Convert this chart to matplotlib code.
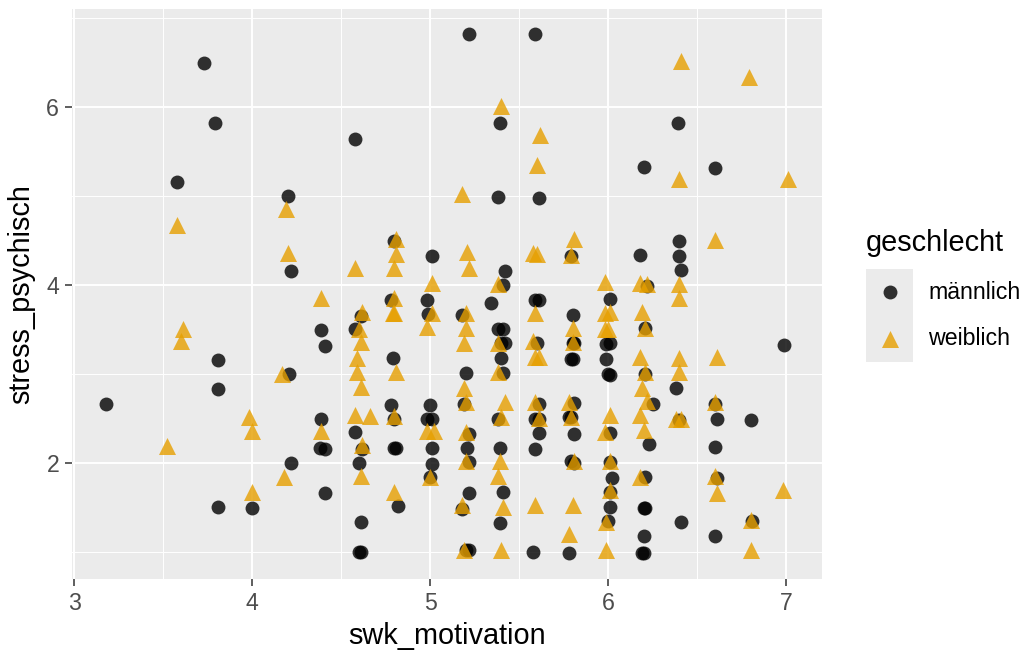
import matplotlib
matplotlib.use("Agg")
import matplotlib.pyplot as plt
from matplotlib.ticker import FixedLocator

plt.rcParams['font.family'] = ['Liberation Sans', 'DejaVu Sans']

# swk_motivation / stress_psychisch, male respondents
maennlich_x = [3.18, 3.58, 3.73, 3.79, 3.81, 3.81, 3.81, 4.00, 4.20, 4.22,
               4.21, 4.22, 4.39, 4.41, 4.39, 4.38, 4.41, 4.41, 4.58, 4.58,
               4.61, 4.58, 4.62, 4.60, 4.61, 4.60, 4.61, 4.80, 4.78, 4.79,
               4.78, 4.80, 4.80, 4.81, 4.82, 5.01, 4.98, 4.99, 5.00, 4.98,
               5.01, 5.01, 5.01, 5.00, 5.22, 5.18, 5.20, 5.19, 5.22, 5.21,
               5.22, 5.22, 5.18, 5.20, 5.22, 5.39, 5.38, 5.42, 5.41, 5.34,
               5.38, 5.41, 5.40, 5.42, 5.40, 5.41, 5.38, 5.39, 5.41, 5.39,
               5.59, 5.61, 5.59, 5.61, 5.60, 5.61, 5.59, 5.61, 5.61, 5.59,
               5.58, 5.79, 5.80, 5.80, 5.81, 5.79, 5.80, 5.81, 5.78, 5.79,
               5.81, 5.79, 5.81, 5.78, 6.01, 5.99, 6.01, 5.99, 6.00, 6.01,
               6.01, 6.01, 6.02, 6.01, 6.01, 6.00, 6.20, 6.18, 6.22, 6.21,
               6.21, 6.25, 6.23, 6.21, 6.20, 6.21, 6.20, 6.19, 6.20, 6.39,
               6.40, 6.40, 6.41, 6.38, 6.40, 6.41, 6.60, 6.60, 6.61, 6.60,
               6.61, 6.60, 6.80, 6.81, 6.99]
maennlich_y = [2.67, 5.16, 6.50, 5.83, 3.16, 2.83, 1.51, 1.50, 5.00, 4.16,
               3.00, 2.00, 3.50, 3.32, 2.50, 2.17, 2.16, 1.66, 5.65, 3.51,
               3.66, 2.35, 2.16, 2.00, 1.34, 1.00, 1.00, 4.50, 3.84, 3.18,
               2.66, 2.50, 2.17, 2.17, 1.52, 4.33, 3.83, 3.68, 2.66, 2.50,
               2.50, 2.17, 1.99, 1.85, 6.82, 3.67, 3.01, 2.67, 2.33, 2.17,
               2.01, 1.67, 1.49, 1.02, 1.02, 5.82, 4.99, 4.16, 4.00, 3.80,
               3.51, 3.51, 3.35, 3.35, 3.18, 3.01, 2.50, 2.17, 1.68, 1.33,
               6.82, 4.98, 3.84, 3.83, 3.35, 2.67, 2.50, 2.50, 2.34, 2.16,
               1.00, 4.33, 3.67, 3.35, 3.35, 3.17, 3.17, 2.68, 2.52, 2.52,
               2.33, 2.02, 2.00, 0.99, 3.85, 3.34, 3.35, 3.17, 3.00, 2.99,
               2.34, 2.01, 1.83, 1.68, 1.51, 1.35, 5.33, 4.34, 3.99, 3.52,
               3.00, 2.67, 2.22, 1.85, 1.50, 1.50, 1.18, 0.99, 0.99, 5.82,
               4.50, 4.33, 4.17, 2.84, 2.49, 1.34, 5.32, 2.67, 2.50, 2.18,
               1.83, 1.18, 2.49, 1.35, 3.33]

# swk_motivation / stress_psychisch, female respondents
weiblich_x = [3.52, 3.58, 3.61, 3.60, 3.98, 4.00, 4.00, 4.19, 4.20, 4.17,
              4.18, 4.39, 4.39, 4.58, 4.62, 4.60, 4.61, 4.59, 4.59, 4.61,
              4.58, 4.66, 4.62, 4.61, 4.81, 4.81, 4.80, 4.80, 4.79, 4.80,
              4.81, 4.80, 4.80, 5.01, 5.01, 4.98, 5.02, 4.98, 5.00, 5.18,
              5.21, 5.22, 5.20, 5.20, 5.19, 5.19, 5.20, 5.20, 5.20, 5.18,
              5.19, 5.40, 5.38, 5.38, 5.38, 5.42, 5.40, 5.39, 5.38, 5.41,
              5.40, 5.62, 5.60, 5.58, 5.60, 5.59, 5.58, 5.59, 5.61, 5.59,
              5.61, 5.59, 5.81, 5.79, 5.80, 5.80, 5.78, 5.79, 5.81, 5.80,
              5.78, 5.98, 5.98, 6.01, 5.98, 6.00, 6.01, 5.98, 6.01, 6.01,
              5.99, 5.99, 6.18, 6.22, 6.19, 6.21, 6.18, 6.21, 6.19, 6.22,
              6.18, 6.20, 6.18, 6.41, 6.40, 6.40, 6.40, 6.40, 6.40, 6.38,
              6.41, 6.60, 6.61, 6.60, 6.60, 6.61, 6.79, 6.80, 6.80, 6.98,
              7.01]
weiblich_y = [2.19, 4.68, 3.51, 3.37, 2.52, 2.36, 1.68, 4.86, 4.36, 3.00,
              1.85, 3.86, 2.36, 4.19, 3.70, 3.51, 3.36, 3.18, 3.03, 2.86,
              2.54, 2.53, 2.20, 1.86, 4.52, 4.35, 4.19, 3.86, 3.69, 3.69,
              3.03, 2.53, 1.68, 4.03, 3.69, 3.53, 2.36, 2.36, 1.85, 5.03,
              4.37, 4.19, 3.69, 3.52, 3.35, 2.85, 2.69, 2.35, 2.02, 1.53,
              1.02, 6.02, 4.02, 3.35, 3.02, 2.69, 2.52, 2.03, 1.86, 1.51,
              1.03, 5.69, 5.35, 4.36, 4.35, 3.69, 3.37, 3.19, 3.19, 2.69,
              2.51, 1.53, 4.52, 4.34, 3.52, 3.36, 2.69, 2.52, 2.03, 1.53,
              1.20, 4.04, 3.69, 3.70, 3.51, 3.51, 2.54, 2.35, 2.03, 1.70,
              1.34, 1.02, 4.03, 4.02, 3.70, 3.52, 3.19, 3.02, 2.85, 2.70,
              2.54, 2.37, 1.85, 6.52, 5.20, 4.01, 3.86, 3.18, 3.03, 2.50,
              2.50, 4.51, 3.19, 2.69, 1.86, 1.67, 6.34, 1.36, 1.02, 1.70,
              5.20]

x_breaks = [3, 4, 5, 6, 7]
x_minor = [3.5, 4.5, 5.5, 6.5]
y_breaks = [2, 4, 6]
y_minor = [1, 3, 5, 7]

groups = ["männlich", "weiblich"]
colors = ["#000000", "#E69F00"]
markers = ["o", "^"]
sizes = [100, 150]
alpha = 0.8

W, H = 1027, 654
fig = plt.figure(figsize=(W / 100, H / 100), dpi=100)
fig.patch.set_facecolor("white")

ax = fig.add_axes([72 / W, 1 - 579 / H, (822 - 72) / W, (579 - 8.5) / H])
ax.set_facecolor("#EBEBEB")

ax.scatter(maennlich_x, maennlich_y, s=sizes[0], marker=markers[0],
           color=colors[0], alpha=alpha, linewidths=0, zorder=3)
ax.scatter(weiblich_x, weiblich_y, s=sizes[1], marker=markers[1],
           color=colors[1], alpha=alpha, linewidths=0, zorder=3)

# ggplot-like 5% expansion of the data range
all_x = maennlich_x + weiblich_x
all_y = maennlich_y + weiblich_y
xr = max(all_x) - min(all_x)
yr = max(all_y) - min(all_y)
ax.set_xlim(min(all_x) - 0.05 * xr, max(all_x) + 0.05 * xr)
ax.set_ylim(min(all_y) - 0.05 * yr, max(all_y) + 0.05 * yr)

ax.xaxis.set_major_locator(FixedLocator(x_breaks))
ax.xaxis.set_minor_locator(FixedLocator(x_minor))
ax.yaxis.set_major_locator(FixedLocator(y_breaks))
ax.yaxis.set_minor_locator(FixedLocator(y_minor))

ax.grid(which="major", color="white", linewidth=1.4, zorder=0)
ax.grid(which="minor", color="white", linewidth=0.7, zorder=0)
ax.set_axisbelow(True)

for sp in ax.spines.values():
    sp.set_visible(False)

ax.tick_params(which="major", length=5, width=1.1, color="#333333",
               labelsize=16.7, labelcolor="#4D4D4D", pad=4.2)
ax.tick_params(which="minor", length=0)

ax.set_xlabel("swk_motivation", fontsize=20.8, color="black", labelpad=5)
ax.set_ylabel("stress_psychisch", fontsize=20.8, color="black", labelpad=8)

# legend
fig.text(866 / W, 1 - 243 / H, "geschlecht", fontsize=20.8, ha="left",
         va="center", color="black")
lax = fig.add_axes([866 / W, 1 - 362 / H, 47 / W, 93 / H])
lax.set_facecolor("#EBEBEB")
lax.set_xlim(0, 1)
lax.set_ylim(0, 2)
for sp in lax.spines.values():
    sp.set_visible(False)
lax.set_xticks([])
lax.set_yticks([])
for i, (g, c, m, s) in enumerate(zip(groups, colors, markers, sizes)):
    yk = 1.5 - i
    lax.scatter([0.5], [yk], s=s, marker=m, color=c, alpha=alpha, linewidths=0)
    fig.text(928 / W, 1 - (269 + 93 * (yk / 2 * -1 + 1)) / H, g, fontsize=16.7,
             ha="left", va="center", color="black")

fig.savefig("out.png", dpi=100)
